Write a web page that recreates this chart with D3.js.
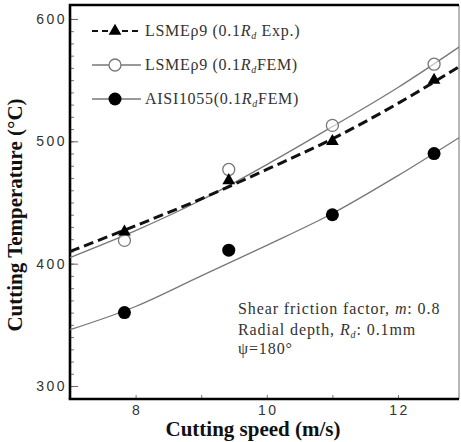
<!DOCTYPE html>
<html>
<head>
<meta charset="utf-8">
<script src="https://cdn.jsdelivr.net/npm/d3@7"></script>
<style>
  body{ margin:0; background:#fff; }
  .tick text{ font-family:"Liberation Sans", Arial, sans-serif; font-size:14px; fill:#333; letter-spacing:2.5px; }
  .lab{ font-family:"Liberation Serif","Times New Roman",serif; font-weight:bold; font-size:21px; fill:#111; }
  .leg, .note{ font-family:"Liberation Serif","Times New Roman",serif; font-size:16px; fill:#333; }
  .leg{ letter-spacing:0.7px; }
  .note{ letter-spacing:0.9px; }
</style>
</head>
<body>
<svg id="chart" width="461" height="442"></svg>
<script>
// measured points
var speedExp = [7.83, 9.42, 11.0, 12.55];
var tempExp  = [426, 468, 500, 550];
var tempFemL = [419, 477, 513, 563];
var tempFemA = [360, 411, 440, 490];

// fitted curves
var fitX     = [7, 8, 9, 10, 11, 12, 12.93];
var fitExp   = [410, 431, 453, 477, 502, 531, 561];
var fitFemL  = [405, 427, 452, 481, 512, 544, 577];
var fitFemA  = [346, 365, 390, 415, 441, 472, 503];

var xTicks = [8, 10, 12];
var yTicks = [300, 400, 500, 600];
var legendNames = ["LSMEρ9", "LSMEρ9", "AISI1055"];
var legendTags  = ["Exp.)", "FEM)", "FEM)"];

var svg = d3.select("#chart");
var x = d3.scaleLinear().domain([7, 12.93]).range([70, 459]);
var y = d3.scaleLinear().domain([289.4, 611.4]).range([399, 5]);

// frame
svg.append("line").attr("x1",459).attr("x2",459).attr("y1",5).attr("y2",399)
   .attr("stroke","#888").attr("stroke-width",1.2);

// y axis with inner ticks
var yMinor = d3.range(300, 601, 10);
svg.append("g").attr("transform","translate(70,0)")
   .call(d3.axisRight(y).tickValues(yMinor).tickSize(4).tickFormat(""))
   .call(g => g.select(".domain").remove())
   .selectAll("line").attr("stroke","#777");
svg.append("g").attr("transform","translate(69,0)")
   .call(d3.axisLeft(y).tickValues(yTicks).tickSize(0).tickPadding(2))
   .call(g => g.select(".domain").remove());
svg.append("g").attr("transform","translate(70,0)")
   .call(d3.axisRight(y).tickValues(yTicks).tickSize(8).tickFormat(""))
   .call(g => g.select(".domain").remove())
   .selectAll("line").attr("stroke","#666");

// x axis with inner ticks
svg.append("g").attr("transform","translate(0,399)")
   .call(d3.axisTop(x).tickValues([8,9,10,11,12]).tickSize(4).tickFormat(""))
   .call(g => g.select(".domain").remove())
   .selectAll("line").attr("stroke","#777");
svg.append("g").attr("transform","translate(1,399)")
   .call(d3.axisBottom(x).tickValues(xTicks).tickSize(0).tickPadding(6).tickFormat(d3.format("d")))
   .call(g => g.select(".domain").remove());

svg.append("path").attr("d","M70,399V5H459").attr("fill","none").attr("stroke","#000").attr("stroke-width",2.6);
svg.append("path").attr("d","M68.7,399H459").attr("fill","none").attr("stroke","#000").attr("stroke-width",2.6);

// curves
var line = d3.line().x(d => x(d[0])).y(d => y(d[1])).curve(d3.curveMonotoneX);
svg.append("path").datum(d3.zip(fitX, fitFemA)).attr("d", line)
   .attr("fill","none").attr("stroke","#777").attr("stroke-width",1.3);
svg.append("path").datum(d3.zip(fitX, fitFemL)).attr("d", line)
   .attr("fill","none").attr("stroke","#777").attr("stroke-width",1.3);
svg.append("path").datum(d3.zip(fitX, fitExp)).attr("d", line)
   .attr("fill","none").attr("stroke","#111").attr("stroke-width",3).attr("stroke-dasharray","10,5");

var tri = d3.symbol().type(d3.symbolTriangle).size(70);

svg.selectAll(".fa").data(d3.zip(speedExp, tempFemA)).enter().append("circle")
   .attr("cx", d => x(d[0])).attr("cy", d => y(d[1])).attr("r",6.5).attr("fill","#000");
svg.selectAll(".fl").data(d3.zip(speedExp, tempFemL)).enter().append("circle")
   .attr("cx", d => x(d[0])).attr("cy", d => y(d[1])).attr("r",6)
   .attr("fill","#fff").attr("fill-opacity",0.6).attr("stroke","#777").attr("stroke-width",1.3);
svg.selectAll(".ex").data(d3.zip(speedExp, tempExp)).enter().append("path")
   .attr("d", tri).attr("transform", d => "translate(" + x(d[0]) + "," + y(d[1]) + ")").attr("fill","#000");

// legend
var legY = [31, 65, 99];
legendNames.forEach(function(n, i){
  var g = svg.append("g").attr("transform","translate(0," + legY[i] + ")");
  if (i == 0) {
    g.append("line").attr("x1",92).attr("x2",141).attr("stroke","#111").attr("stroke-width",2.2).attr("stroke-dasharray","6,4");
    g.append("path").attr("d", tri).attr("transform","translate(115,0)").attr("fill","#000");
  } else if (i == 1) {
    g.append("line").attr("x1",92).attr("x2",141).attr("stroke","#777").attr("stroke-width",1.3);
    g.append("circle").attr("cx",115).attr("r",6).attr("fill","#fff").attr("stroke","#777").attr("stroke-width",1.3);
  } else {
    g.append("line").attr("x1",92).attr("x2",141).attr("stroke","#777").attr("stroke-width",1.3);
    g.append("circle").attr("cx",115).attr("r",6.5).attr("fill","#000");
  }
  var t = g.append("text").attr("class","leg").attr("x",145).attr("y",5);
  t.append("tspan").text(n + (i < 2 ? "  (0.1" : "(0.1"));
  t.append("tspan").attr("font-style","italic").text("R");
  t.append("tspan").attr("font-style","italic").attr("font-size","10px").attr("dy",3).text("d");
  t.append("tspan").attr("dy",-3).text(i == 0 ? " " + legendTags[i] : legendTags[i]);
});

// note
var note = svg.append("text").attr("class","note").attr("x",238).attr("y",314);
note.append("tspan").text("Shear friction factor, ");
note.append("tspan").attr("font-style","italic").text("m");
note.append("tspan").text(": 0.8");
var note2 = svg.append("text").attr("class","note").attr("x",238).attr("y",335);
note2.append("tspan").text("Radial depth, ");
note2.append("tspan").attr("font-style","italic").text("R");
note2.append("tspan").attr("font-style","italic").attr("font-size","10px").attr("dy",3).text("d");
note2.append("tspan").attr("dy",-3).text(": 0.1mm");
svg.append("text").attr("class","note").attr("x",238).attr("y",354).text("ψ=180°");

// axis titles
svg.append("text").attr("class","lab").attr("x",253).attr("y",436).attr("text-anchor","middle").text("Cutting speed (m/s)");
svg.append("text").attr("class","lab").attr("transform","translate(22,215) rotate(-90)")
   .attr("text-anchor","middle").text("Cutting Temperature (°C)");
</script>
</body>
</html>
